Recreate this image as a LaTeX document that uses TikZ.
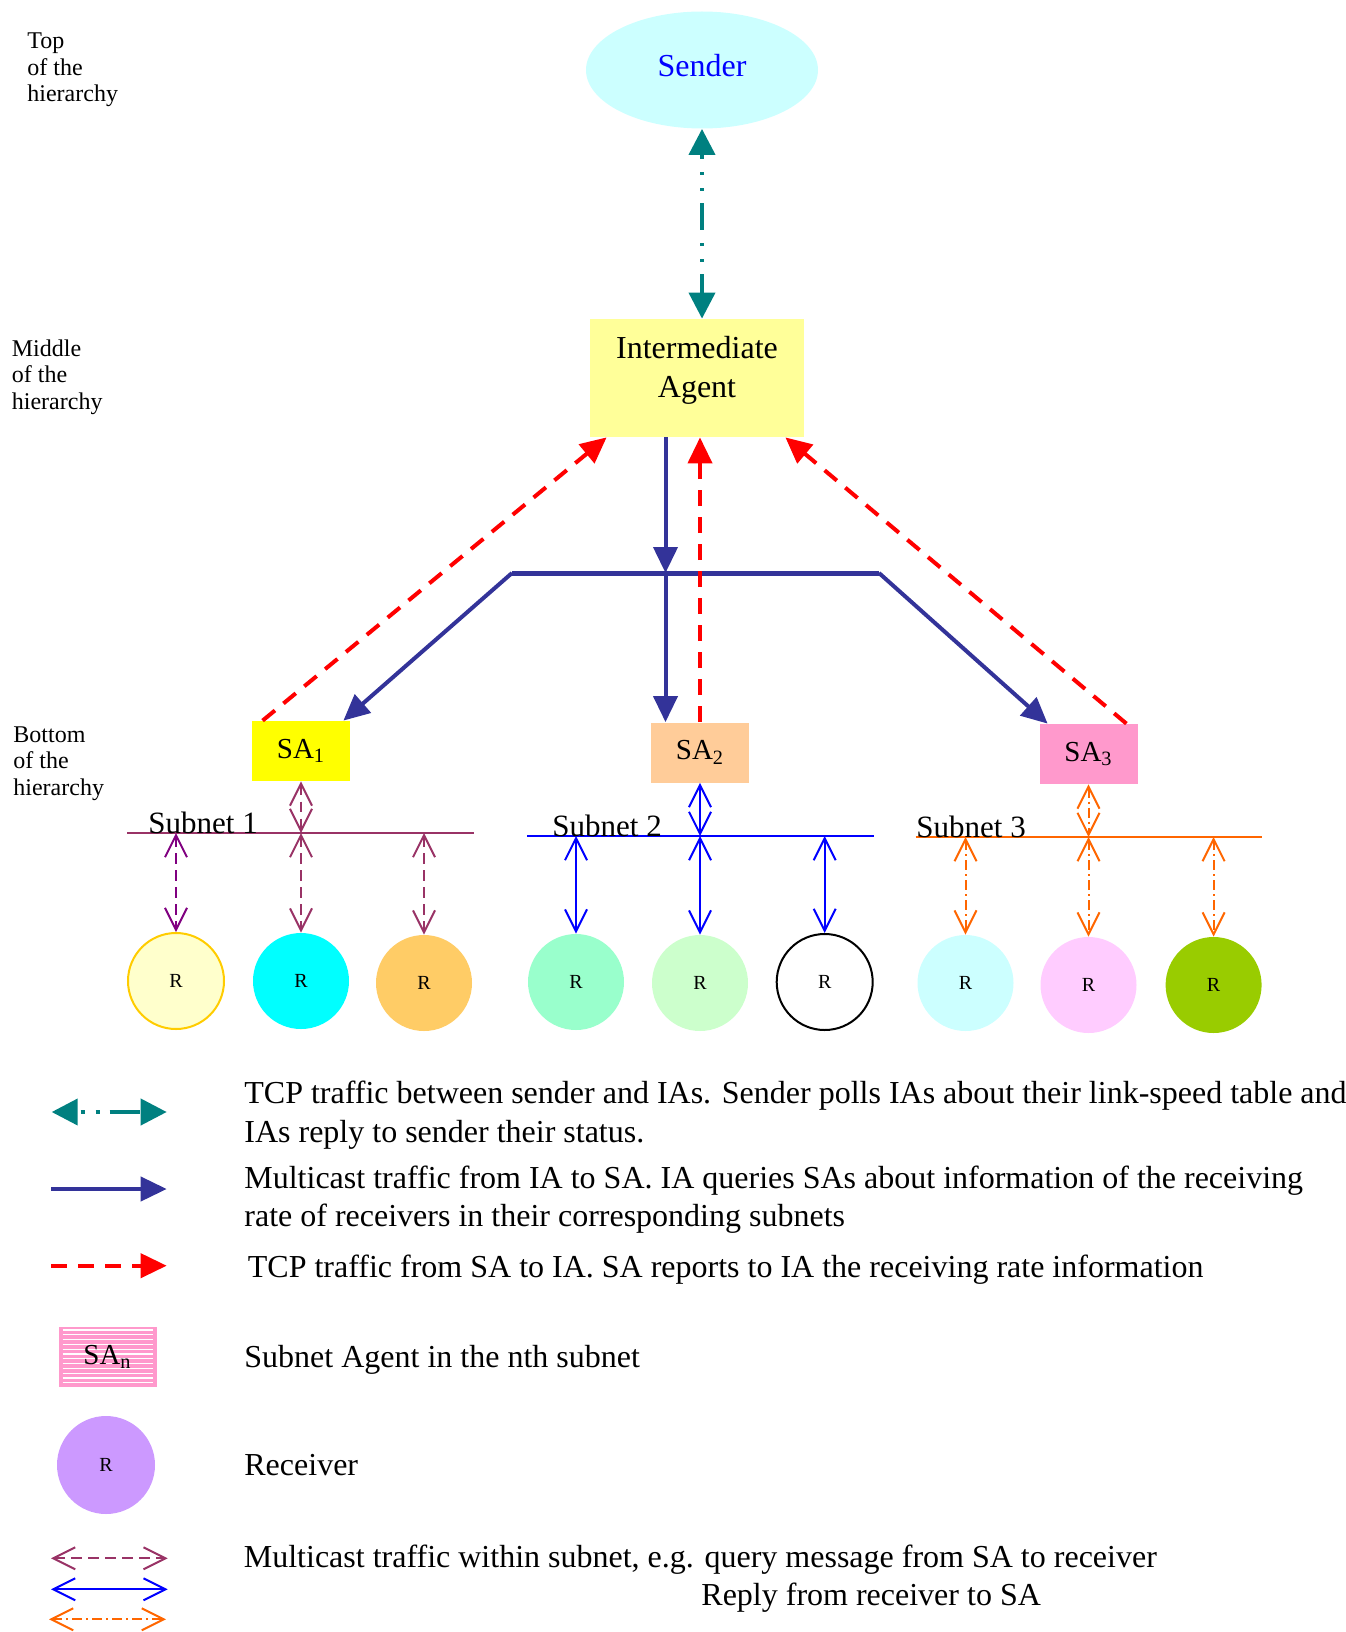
\documentclass[tikz,border=0pt]{standalone}
\usepackage{fontspec}
\setmainfont{Liberation Serif}
\usetikzlibrary{arrows.meta,shapes.geometric}

\definecolor{skyfill}{HTML}{CCFFFF}
\definecolor{iafill}{HTML}{FFFF99}
\definecolor{tealline}{HTML}{008080}
\definecolor{mcastblue}{HTML}{333399}
\definecolor{plumline}{HTML}{993366}
\definecolor{subpurple}{HTML}{800080}
\definecolor{lanorange}{HTML}{FF6600}
\definecolor{saone}{HTML}{FFFF00}
\definecolor{satwo}{HTML}{FFCC99}
\definecolor{sathree}{HTML}{FF99CC}
\definecolor{rcvA}{HTML}{FFFFCC}
\definecolor{rcvArim}{HTML}{FFCC00}
\definecolor{rcvB}{HTML}{00FFFF}
\definecolor{rcvC}{HTML}{FFCC66}
\definecolor{rcvD}{HTML}{99FFCC}
\definecolor{rcvE}{HTML}{CCFFCC}
\definecolor{rcvG}{HTML}{CCFFFF}
\definecolor{rcvH}{HTML}{FFCCFF}
\definecolor{rcvI}{HTML}{99CC00}
\definecolor{rcvkey}{HTML}{CC99FF}

\begin{document}
\begin{tikzpicture}[x=0.5pt,y=-0.5pt,
  % multi-line nodes: the base anchor sits on the last line's baseline
  hier/.style={font=\fontsize{12}{13.25}\selectfont, align=left, anchor=base west, inner sep=0pt},
  legtext/.style={font=\fontsize{16}{19.25}\selectfont, align=left, anchor=base west, inner sep=0pt},
  subname/.style={font=\fontsize{15.5}{18}\selectfont, anchor=base west, inner sep=0pt},
  agent/.style={minimum width=49pt, minimum height=30pt, inner sep=0pt, font=\fontsize{14.5}{17}\selectfont},
  recv/.style={circle, minimum size=48pt, inner sep=0pt, font=\fontsize{10}{12}\selectfont},
  stripes/.style={path picture={
    \foreach \k in {0,...,11}{
      \draw[white, line width=0.6pt]
        ([xshift=2pt,yshift={-1.5pt-2.4pt*\k}]path picture bounding box.north west) --
        ([xshift=-2pt,yshift={-1.5pt-2.4pt*\k}]path picture bounding box.north east);}}},
  tcp/.style={draw=tealline, line width=2pt,
    dash pattern=on 13.5pt off 6.5pt on 1.5pt off 6.5pt on 1.5pt off 6pt,
    {Triangle[length=13pt,width=13pt]}-{Triangle[length=13pt,width=13pt]}},
  mcast/.style={draw=mcastblue, line width=2pt},
  mcastarr/.style={mcast, -{Triangle[length=13pt,width=12pt]}},
  report/.style={draw=red, line width=2pt, dash pattern=on 8pt off 5.5pt,
    -{Triangle[length=13pt,width=12pt]}},
  lan/.style={line width=1pt},
  lanarrow/.style={line width=1pt,
    {Straight Barb[length=11pt,width=11pt]}-{Straight Barb[length=11pt,width=11pt]}},
  plumdash/.style={lanarrow, draw=plumline, dash pattern=on 5.25pt off 3.25pt},
  bluesolid/.style={lanarrow, draw=blue},
  orangedot/.style={lanarrow, draw=lanorange, dash pattern=on 5pt off 2pt on 1pt off 2pt}
]
\useasboundingbox (0,0) rectangle (1345,1632);

% hierarchy levels
\node[hier] (lvtop) at (27,102) {Top\\of the\\hierarchy};
\node[hier] (lvmid) at (11.5,409.3) {Middle\\of the\\hierarchy};
\node[hier] (lvbot) at (13,795) {Bottom\\of the\\hierarchy};

% sender and intermediate agent
\node[ellipse, fill=skyfill, minimum width=116pt, minimum height=58.5pt, inner sep=0pt,
      text=blue, font=\fontsize{16}{19}\selectfont] (sender) at (702,70)
      {\raisebox{2pt}[\height][\depth]{Sender}};
\node[fill=iafill, minimum width=107pt, minimum height=59pt, inner sep=0pt,
      font=\fontsize{16}{19.5}\selectfont] (ia) at (697,378)
      {\raisebox{4pt}[\height][\depth]{\begin{tabular}{@{}c@{}}Intermediate\\Agent\end{tabular}}};

% subnet agents
\node[agent, fill=saone] (sa1) at (301,751) {SA\textsubscript{1}};
\node[agent, fill=satwo] (sa2) at (700,752.5) {SA\textsubscript{2}};
\node[agent, fill=sathree] (sa3) at (1088.5,754) {SA\textsubscript{3}};

% sender <-> IA
\draw[tcp, dash phase=10.85pt] (sender.south) -- (sender.south |- ia.north);

% multicast tree from IA to SAs
\coordinate (jc) at (665.5,573);
\coordinate (jl) at (512,573);
\coordinate (jr) at (879,573);
\draw[mcastarr] (ia.south -| jc) -- (jc);
\draw[mcast, line width=2.5pt] (jl) -- (jr);
\draw[mcastarr] (jl) -- ([xshift=-3.5pt]sa1.north east);
\draw[mcastarr] (jc) -- (sa2.north -| jc);
\draw[mcastarr] (jr) -- ([xshift=4.25pt]sa3.north west);

% reports from SAs to IA
\draw[report] ([xshift=5.5pt]sa1.north west) -- ([xshift=8.5pt]ia.south west);
\draw[report] (sa2.north) -- (sa2.north |- ia.south);
\draw[report] ([xshift=-5.75pt]sa3.north east) -- ([xshift=-9.5pt]ia.south east);

% subnet LANs
\coordinate (s1w) at (127,833);   \coordinate (s1e) at (474,833);
\coordinate (s2w) at (527,836);   \coordinate (s2e) at (874,836);
\coordinate (s3w) at (915.6,837); \coordinate (s3e) at (1261.7,837);
\draw[lan, draw=plumline] (s1w) -- (s1e);
\draw[lan, draw=blue] (s2w) -- (s2e);
\draw[lan, draw=lanorange] (s3w) -- (s3e);
\node[subname] (sn1) at (148,833) {Subnet 1};
\node[subname] (sn2) at (552,836) {Subnet 2};
\node[subname] (sn3) at (916,837) {Subnet 3};

% receivers
\node[recv, fill=rcvA, draw=rcvArim, line width=1pt] (r1) at (176,981) {R};
\node[recv, fill=rcvB] (r2) at (301,981) {R};
\node[recv, fill=rcvC] (r3) at (424,983) {R};
\node[recv, fill=rcvD] (r4) at (576,982) {R};
\node[recv, fill=rcvE] (r5) at (700,983) {R};
\node[recv, fill=white, draw=black, line width=1pt] (r6) at (824.7,982) {R};
\node[recv, fill=rcvG] (r7) at (965.5,983) {R};
\node[recv, fill=rcvH] (r8) at (1088.5,985) {R};
\node[recv, fill=rcvI] (r9) at (1213.6,985) {R};

% traffic inside subnet 1
\draw[plumdash, draw=subpurple] (r1.north |- s1w) -- (r1.north);
\draw[plumdash] (sa1.south) -- (sa1.south |- s1w);
\draw[plumdash] (sa1.south |- s1w) -- (r2.north);
\draw[plumdash] (r3.north |- s1w) -- (r3.north);

% traffic inside subnet 2
\draw[bluesolid] (r4.north |- s2w) -- (r4.north);
\draw[bluesolid] (sa2.south) -- (sa2.south |- s2w);
\draw[bluesolid] (sa2.south |- s2w) -- (r5.north);
\draw[bluesolid] (r6.north |- s2w) -- (r6.north);

% traffic inside subnet 3
\draw[orangedot] (r7.north |- s3w) -- (r7.north);
\draw[orangedot] (sa3.south) -- (sa3.south |- s3w);
\draw[orangedot] (sa3.south |- s3w) -- (r8.north);
\draw[orangedot] (r9.north |- s3w) -- (r9.north);

% key
\coordinate (k1a) at (51.7,1112);  \coordinate (k1b) at (166.7,1112);
\coordinate (k2a) at (51,1189);    \coordinate (k2b) at (166.7,1189);
\coordinate (k3a) at (51,1265.7);  \coordinate (k3b) at (166.7,1265.7);
\coordinate (k4a) at (51,1558.3);  \coordinate (k4b) at (167.7,1558.3);
\coordinate (k5a) at (51,1589.3);  \coordinate (k5b) at (167.7,1589.3);
\coordinate (k6a) at (49,1619.3);  \coordinate (k6b) at (166,1619.3);

\draw[tcp, dash pattern=on 2pt off 5.5pt on 2pt off 5pt on 15pt off 2pt, dash phase=29.5pt] (k1a) -- (k1b);
\node[legtext] (t1) at (244,1142)
  {TCP traffic between sender and IAs. Sender polls IAs about their link-speed table and\\IAs reply to sender their status.};

\draw[mcastarr] (k2a) -- (k2b);
\node[legtext, font=\fontsize{16}{19}\selectfont] (t2) at (244,1226.5)
  {Multicast traffic from IA to SA. IA queries SAs about information of the receiving\\rate of receivers in their corresponding subnets};

\draw[report] (k3a) -- (k3b);
\node[legtext] (t3) at (247.5,1277.3)
  {TCP traffic from SA to IA. SA reports to IA the receiving rate information};

\node[agent, fill=sathree, stripes] (san) at (107.5,1357) {SA\textsubscript{n}};
\node[legtext] (t4) at (244,1367.3) {Subnet Agent in the nth subnet};

\node[recv, minimum size=49pt, fill=rcvkey] (rk) at (106,1465) {R};
\node[legtext] (t5) at (244,1475.7) {Receiver};

\draw[plumdash] (k4a) -- (k4b);
\draw[bluesolid] (k5a) -- (k5b);
\draw[orangedot] (k6a) -- (k6b);
\node[legtext] (t6) at (243.5,1567.3)
  {Multicast traffic within subnet, e.g. query message from SA to receiver};
\node[legtext] (t7) at (701,1605.3) {Reply from receiver to SA};
\end{tikzpicture}
\end{document}
